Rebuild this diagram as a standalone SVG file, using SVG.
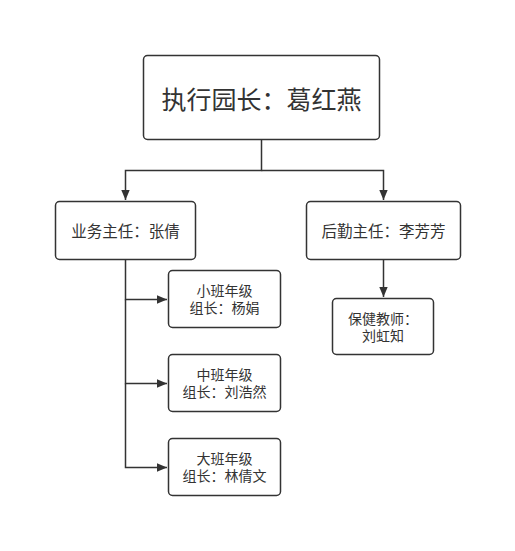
<svg xmlns="http://www.w3.org/2000/svg" width="515" height="551" viewBox="0 0 515 551">
<style>
.box{fill:#fff;stroke:#333;stroke-width:1.5}
.t{font-family:"Noto Sans CJK SC","Noto Sans",sans-serif;fill:#333;text-anchor:middle}
.s{font-family:"Liberation Sans","Noto Sans CJK SC",sans-serif;fill:#333;text-anchor:middle;font-size:14px}
.c{fill:none;stroke:#333;stroke-width:1.5}
</style>
<defs>
<marker id="arr" viewBox="0 0 10 10" refX="10" refY="5" markerWidth="10" markerHeight="10" markerUnits="userSpaceOnUse" orient="auto">
<path d="M0,0.8 L10,5 L0,9.2 Z" fill="#333"/>
</marker>
</defs>
<rect width="515" height="551" fill="#fff"/>
<g id="connectors">
<path class="c" d="M261.5,139.5 V170.5 H125.5 V200" marker-end="url(#arr)"/>
<path class="c" d="M261.5,170.5 H383.5 V200" marker-end="url(#arr)"/>
<path class="c" d="M125.5,259.5 V299.5 H167" marker-end="url(#arr)"/>
<path class="c" d="M125.5,299.5 V383.5 H167" marker-end="url(#arr)"/>
<path class="c" d="M125.5,383.5 V467.5 H167" marker-end="url(#arr)"/>
<path class="c" d="M383.5,259.5 V297" marker-end="url(#arr)"/>
</g>
<g id="n-top">
<rect class="box" x="143.5" y="55.5" width="236" height="84" rx="4"/>
<text class="t" x="261.5" y="109" font-size="25">执行园长：葛红燕</text>
</g>
<g id="n-yewu">
<rect class="box" x="55.5" y="201.5" width="140" height="58" rx="4"/>
<text class="t" x="125.5" y="237" font-size="15.5">业务主任：张倩</text>
</g>
<g id="n-houqin">
<rect class="box" x="306.5" y="201.5" width="154" height="58" rx="4"/>
<text class="t" x="383.5" y="237" font-size="15.5">后勤主任：李芳芳</text>
</g>
<g id="n-xiao">
<rect class="box" x="168.5" y="270.5" width="112" height="57" rx="4"/>
<text class="s" x="224.5" y="295.5">小班年级</text>
<text class="s" x="224.5" y="313">组长：杨娟</text>
</g>
<g id="n-zhong">
<rect class="box" x="168.5" y="354.5" width="112" height="57" rx="4"/>
<text class="s" x="224.5" y="379.5">中班年级</text>
<text class="s" x="224.5" y="397">组长：刘浩然</text>
</g>
<g id="n-da">
<rect class="box" x="168.5" y="438.5" width="112" height="57" rx="4"/>
<text class="s" x="224.5" y="463.5">大班年级</text>
<text class="s" x="224.5" y="481">组长：林倩文</text>
</g>
<g id="n-baojian">
<rect class="box" x="332.5" y="298.5" width="101" height="56" rx="4"/>
<text class="s" x="383" y="324">保健教师：</text>
<text class="s" x="383" y="341">刘虹知</text>
</g>
</svg>
